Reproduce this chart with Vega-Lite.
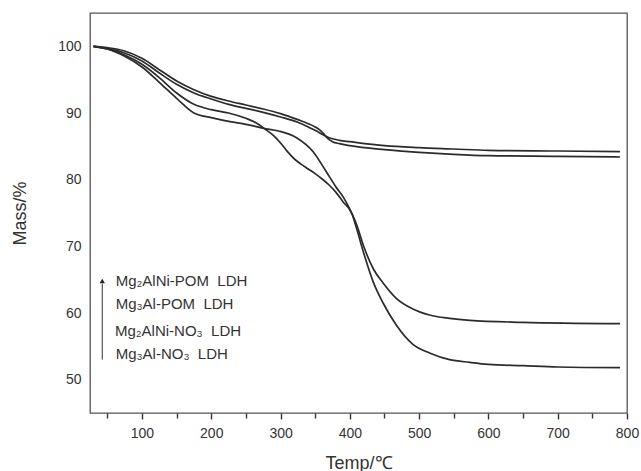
{
  "$schema": "https://vega.github.io/schema/vega-lite/v6.json",
  "width": 537,
  "height": 400,
  "autosize": {"type": "none"},
  "padding": {"left": 90, "top": 13, "right": 14, "bottom": 58},
  "background": "white",
  "config": {
    "view": {"stroke": "#555555", "strokeWidth": 1.3},
    "font": "Liberation Sans"
  },
  "resolve": {"axis": {"x": "independent"}},
  "datasets": {
    "curves": [
      {"sample": "Mg2AlNi-POM", "t": 30, "m": 100},
      {"sample": "Mg2AlNi-POM", "t": 50, "m": 99.7},
      {"sample": "Mg2AlNi-POM", "t": 75, "m": 99.0},
      {"sample": "Mg2AlNi-POM", "t": 100, "m": 97.8},
      {"sample": "Mg2AlNi-POM", "t": 125, "m": 96.0},
      {"sample": "Mg2AlNi-POM", "t": 150, "m": 94.3},
      {"sample": "Mg2AlNi-POM", "t": 175, "m": 93.0},
      {"sample": "Mg2AlNi-POM", "t": 200, "m": 92.1},
      {"sample": "Mg2AlNi-POM", "t": 225, "m": 91.3},
      {"sample": "Mg2AlNi-POM", "t": 250, "m": 90.7},
      {"sample": "Mg2AlNi-POM", "t": 275, "m": 90.1},
      {"sample": "Mg2AlNi-POM", "t": 300, "m": 89.4},
      {"sample": "Mg2AlNi-POM", "t": 325, "m": 88.6},
      {"sample": "Mg2AlNi-POM", "t": 340, "m": 87.9},
      {"sample": "Mg2AlNi-POM", "t": 350, "m": 87.4},
      {"sample": "Mg2AlNi-POM", "t": 360, "m": 86.8},
      {"sample": "Mg2AlNi-POM", "t": 370, "m": 86.3},
      {"sample": "Mg2AlNi-POM", "t": 385, "m": 85.9},
      {"sample": "Mg2AlNi-POM", "t": 400, "m": 85.7},
      {"sample": "Mg2AlNi-POM", "t": 450, "m": 85.1},
      {"sample": "Mg2AlNi-POM", "t": 500, "m": 84.8},
      {"sample": "Mg2AlNi-POM", "t": 550, "m": 84.6},
      {"sample": "Mg2AlNi-POM", "t": 600, "m": 84.4},
      {"sample": "Mg2AlNi-POM", "t": 700, "m": 84.3},
      {"sample": "Mg2AlNi-POM", "t": 790, "m": 84.2},

      {"sample": "Mg3Al-POM", "t": 30, "m": 100},
      {"sample": "Mg3Al-POM", "t": 50, "m": 99.8},
      {"sample": "Mg3Al-POM", "t": 75, "m": 99.3},
      {"sample": "Mg3Al-POM", "t": 100, "m": 98.2},
      {"sample": "Mg3Al-POM", "t": 125, "m": 96.5},
      {"sample": "Mg3Al-POM", "t": 150, "m": 94.8},
      {"sample": "Mg3Al-POM", "t": 175, "m": 93.5},
      {"sample": "Mg3Al-POM", "t": 200, "m": 92.5},
      {"sample": "Mg3Al-POM", "t": 225, "m": 91.8},
      {"sample": "Mg3Al-POM", "t": 250, "m": 91.2},
      {"sample": "Mg3Al-POM", "t": 275, "m": 90.6},
      {"sample": "Mg3Al-POM", "t": 300, "m": 89.9},
      {"sample": "Mg3Al-POM", "t": 325, "m": 89.0},
      {"sample": "Mg3Al-POM", "t": 340, "m": 88.4},
      {"sample": "Mg3Al-POM", "t": 350, "m": 87.9},
      {"sample": "Mg3Al-POM", "t": 356, "m": 87.5},
      {"sample": "Mg3Al-POM", "t": 362, "m": 86.9},
      {"sample": "Mg3Al-POM", "t": 368, "m": 86.2},
      {"sample": "Mg3Al-POM", "t": 375, "m": 85.7},
      {"sample": "Mg3Al-POM", "t": 385, "m": 85.4},
      {"sample": "Mg3Al-POM", "t": 400, "m": 85.1},
      {"sample": "Mg3Al-POM", "t": 450, "m": 84.5},
      {"sample": "Mg3Al-POM", "t": 500, "m": 84.1},
      {"sample": "Mg3Al-POM", "t": 550, "m": 83.8},
      {"sample": "Mg3Al-POM", "t": 600, "m": 83.6},
      {"sample": "Mg3Al-POM", "t": 700, "m": 83.5},
      {"sample": "Mg3Al-POM", "t": 790, "m": 83.4},

      {"sample": "Mg2AlNi-NO3", "t": 30, "m": 100},
      {"sample": "Mg2AlNi-NO3", "t": 50, "m": 99.6},
      {"sample": "Mg2AlNi-NO3", "t": 75, "m": 98.5},
      {"sample": "Mg2AlNi-NO3", "t": 100, "m": 96.9},
      {"sample": "Mg2AlNi-NO3", "t": 125, "m": 94.6},
      {"sample": "Mg2AlNi-NO3", "t": 150, "m": 92.2},
      {"sample": "Mg2AlNi-NO3", "t": 175, "m": 90.0},
      {"sample": "Mg2AlNi-NO3", "t": 200, "m": 89.3},
      {"sample": "Mg2AlNi-NO3", "t": 227, "m": 88.7},
      {"sample": "Mg2AlNi-NO3", "t": 250, "m": 88.3},
      {"sample": "Mg2AlNi-NO3", "t": 276, "m": 87.7},
      {"sample": "Mg2AlNi-NO3", "t": 297, "m": 87.3},
      {"sample": "Mg2AlNi-NO3", "t": 323, "m": 86.3},
      {"sample": "Mg2AlNi-NO3", "t": 347, "m": 84.2},
      {"sample": "Mg2AlNi-NO3", "t": 366, "m": 81.2},
      {"sample": "Mg2AlNi-NO3", "t": 380, "m": 78.9},
      {"sample": "Mg2AlNi-NO3", "t": 391, "m": 77.3},
      {"sample": "Mg2AlNi-NO3", "t": 403, "m": 74.9},
      {"sample": "Mg2AlNi-NO3", "t": 410, "m": 73.2},
      {"sample": "Mg2AlNi-NO3", "t": 420, "m": 70.0},
      {"sample": "Mg2AlNi-NO3", "t": 434, "m": 66.6},
      {"sample": "Mg2AlNi-NO3", "t": 448, "m": 64.5},
      {"sample": "Mg2AlNi-NO3", "t": 467, "m": 62.2},
      {"sample": "Mg2AlNi-NO3", "t": 491, "m": 60.6},
      {"sample": "Mg2AlNi-NO3", "t": 515, "m": 59.7},
      {"sample": "Mg2AlNi-NO3", "t": 544, "m": 59.2},
      {"sample": "Mg2AlNi-NO3", "t": 573, "m": 58.9},
      {"sample": "Mg2AlNi-NO3", "t": 650, "m": 58.6},
      {"sample": "Mg2AlNi-NO3", "t": 790, "m": 58.4},

      {"sample": "Mg3Al-NO3", "t": 30, "m": 100},
      {"sample": "Mg3Al-NO3", "t": 50, "m": 99.6},
      {"sample": "Mg3Al-NO3", "t": 75, "m": 98.7},
      {"sample": "Mg3Al-NO3", "t": 100, "m": 97.3},
      {"sample": "Mg3Al-NO3", "t": 125, "m": 95.3},
      {"sample": "Mg3Al-NO3", "t": 150, "m": 93.0},
      {"sample": "Mg3Al-NO3", "t": 175, "m": 91.3},
      {"sample": "Mg3Al-NO3", "t": 200, "m": 90.5},
      {"sample": "Mg3Al-NO3", "t": 225, "m": 90.0},
      {"sample": "Mg3Al-NO3", "t": 250, "m": 89.2},
      {"sample": "Mg3Al-NO3", "t": 265, "m": 88.5},
      {"sample": "Mg3Al-NO3", "t": 276, "m": 87.7},
      {"sample": "Mg3Al-NO3", "t": 290, "m": 86.6},
      {"sample": "Mg3Al-NO3", "t": 300, "m": 85.5},
      {"sample": "Mg3Al-NO3", "t": 310, "m": 84.2},
      {"sample": "Mg3Al-NO3", "t": 320, "m": 83.1},
      {"sample": "Mg3Al-NO3", "t": 330, "m": 82.3},
      {"sample": "Mg3Al-NO3", "t": 340, "m": 81.6},
      {"sample": "Mg3Al-NO3", "t": 350, "m": 80.9},
      {"sample": "Mg3Al-NO3", "t": 360, "m": 80.1},
      {"sample": "Mg3Al-NO3", "t": 370, "m": 79.2},
      {"sample": "Mg3Al-NO3", "t": 380, "m": 78.1},
      {"sample": "Mg3Al-NO3", "t": 390, "m": 76.7},
      {"sample": "Mg3Al-NO3", "t": 403, "m": 74.9},
      {"sample": "Mg3Al-NO3", "t": 410, "m": 72.6},
      {"sample": "Mg3Al-NO3", "t": 420, "m": 69.0},
      {"sample": "Mg3Al-NO3", "t": 434, "m": 64.6},
      {"sample": "Mg3Al-NO3", "t": 448, "m": 61.5},
      {"sample": "Mg3Al-NO3", "t": 467, "m": 58.2},
      {"sample": "Mg3Al-NO3", "t": 491, "m": 55.3},
      {"sample": "Mg3Al-NO3", "t": 515, "m": 54.0},
      {"sample": "Mg3Al-NO3", "t": 544, "m": 53.0},
      {"sample": "Mg3Al-NO3", "t": 573, "m": 52.6},
      {"sample": "Mg3Al-NO3", "t": 600, "m": 52.3},
      {"sample": "Mg3Al-NO3", "t": 650, "m": 52.1},
      {"sample": "Mg3Al-NO3", "t": 700, "m": 51.9},
      {"sample": "Mg3Al-NO3", "t": 790, "m": 51.8}
    ],
    "labels": [
      {"label": "Mg₂AlNi-POM\u00a0 LDH", "t": 62, "m": 64.8},
      {"label": "Mg₃Al-POM\u00a0 LDH", "t": 62, "m": 61.3},
      {"label": "Mg₂AlNi-NO₃\u00a0 LDH", "t": 61, "m": 57.3},
      {"label": "Mg₃Al-NO₃\u00a0 LDH", "t": 62, "m": 53.8}
    ],
    "arrow": [
      {"t": 42.7, "m_start": 53.0, "m_end": 64.4, "m_head": 64.8}
    ]
  },
  "layer": [
    {
      "data": {"name": "curves"},
      "mark": {"type": "line", "interpolate": "monotone", "color": "#2b2b2b", "strokeWidth": 1.7},
      "encoding": {
        "x": {
          "field": "t", "type": "quantitative",
          "scale": {"domain": [25, 800], "nice": false, "zero": false},
          "axis": {
            "orient": "bottom",
            "values": [100, 200, 300, 400, 500, 600, 700, 800],
            "title": "Temp/℃",
            "domain": false, "grid": false,
            "ticks": true, "tickSize": 6, "tickColor": "#333333", "tickWidth": 1.4,
            "labelFontSize": 14, "labelColor": "#333333", "labelPadding": 7, "labelFlush": false,
            "labelOverlap": false,
            "titleFontSize": 18, "titleFontWeight": "normal", "titleColor": "#333333", "titlePadding": 14
          }
        },
        "y": {
          "field": "m", "type": "quantitative",
          "scale": {"domain": [45, 105], "nice": false, "zero": false},
          "axis": {
            "values": [50, 60, 70, 80, 90, 100],
            "title": "Mass/%",
            "domain": false, "grid": false, "ticks": false,
            "labelFontSize": 14, "labelColor": "#333333", "labelPadding": 9,
            "titleFontSize": 18, "titleFontWeight": "normal", "titleColor": "#333333", "titlePadding": 28
          }
        },
        "detail": {"field": "sample", "type": "nominal"}
      }
    },
    {
      "data": {"name": "labels"},
      "mark": {"type": "text", "align": "left", "baseline": "middle", "fontSize": 15, "color": "#333333"},
      "encoding": {
        "x": {"field": "t", "type": "quantitative", "axis": null},
        "y": {"field": "m", "type": "quantitative"},
        "text": {"field": "label", "type": "nominal"}
      }
    },
    {
      "data": {"name": "arrow"},
      "mark": {"type": "rule", "color": "#333333", "strokeWidth": 1},
      "encoding": {
        "x": {
          "field": "t", "type": "quantitative",
          "axis": {
            "orient": "bottom",
            "values": [50, 150, 250, 350, 450, 550, 650, 750],
            "labels": false, "title": null,
            "domain": false, "grid": false,
            "ticks": true, "tickSize": 5, "tickColor": "#333333", "tickWidth": 1.4
          }
        },
        "y": {"field": "m_start", "type": "quantitative"},
        "y2": {"field": "m_end"}
      }
    },
    {
      "data": {"name": "arrow"},
      "mark": {"type": "point", "shape": "triangle-up", "filled": true, "size": 28, "color": "#222222", "opacity": 1},
      "encoding": {
        "x": {"field": "t", "type": "quantitative", "axis": null},
        "y": {"field": "m_head", "type": "quantitative"}
      }
    }
  ]
}
